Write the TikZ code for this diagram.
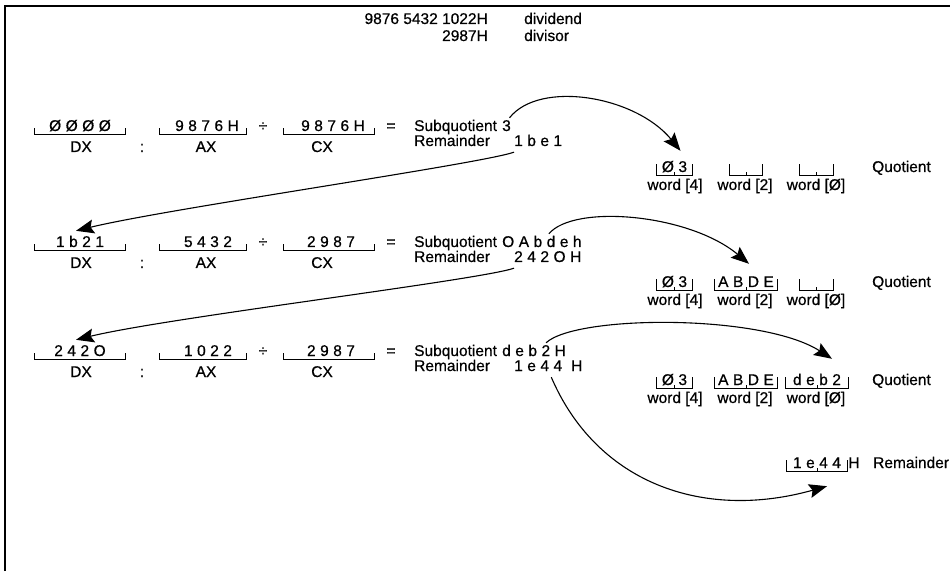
\documentclass[tikz,border=0pt]{standalone}
\usepackage{fontspec}
\setmainfont[FakeBold=0.6]{Liberation Sans}
\usetikzlibrary{arrows.meta}
\newcommand{\gp}{\hspace{4.5pt}}
\tikzset{
  txt/.style={inner sep=0pt, font=\fontsize{15.5}{17}\selectfont, text height=11pt, text depth=3pt},
  brk/.style={line width=1pt},
  arr/.style={line width=1.1pt, -{Stealth[length=18pt,width=14pt,inset=3pt]}},
  frame/.style={line width=2.6pt}
}
\newcommand{\regbox}[5]{%
  \node[txt, minimum width=#4] (#1) at (#2,#3) {#5};
  \draw[brk] ([yshift=6pt]#1.south west) -- (#1.south west) -- (#1.south east) -- ++(0,6pt);}
\newcommand{\wordbox}[5]{%
  \node[txt, minimum width=#4] (#1) at (#2,#3) {#5};
  \draw[brk] ([yshift=11pt]#1.south west) -- (#1.south west) -- (#1.south east) -- ++(0,11pt);
  \draw[brk] (#1.south) -- ++(0,3pt);}
\begin{document}
\begin{tikzpicture}[x=1pt,y=1pt]
\useasboundingbox (0,0) rectangle (950,571);
\draw[frame] (5,0) -- (5,565) -- (950,565);

% header
\node[txt,anchor=east] (dvd) at (488,551) {9876 5432 1022H};
\node[txt,anchor=west] (dvdl) at (524,551) {dividend};
\node[txt,anchor=east] (dvs) at (488,534) {2987H};
\node[txt,anchor=west] (dvsl) at (524,534) {divisor};

% row 1
\regbox{dx1}{80}{444}{91}{Ø\gp Ø\gp Ø\gp Ø}
\regbox{ax1}{203}{444}{86}{\hspace*{8pt}9\gp 8\gp 7\gp 6\gp H}
\regbox{cx1}{329}{444}{90}{\hspace*{8pt}9\gp 8\gp 7\gp 6\gp H}
\node[txt] (dv1) at (263,444) {÷};
\node[txt] (eq1) at (391,444) {=};
\node[txt] (dxl1) at (81,423) {DX};
\node[txt] (co1) at (142,423) {:};
\node[txt] (axl1) at (206,423) {AX};
\node[txt] (cxl1) at (322,423) {CX};
\node[txt,anchor=west] (sq1) at (414,444) {Subquotient};
\node[txt,anchor=west] (sqv1) at (502,444) {3};
\node[txt,anchor=west] (rm1) at (414,429) {Remainder};
\node[txt,anchor=west] (rmv1) at (514,429) {1\gp b\gp e\gp 1};

% row 2
\regbox{dx2}{80}{328}{91}{1\gp b\gp 2\gp 1}
\regbox{ax2}{203}{328}{86}{\hspace*{10pt}5\gp 4\gp 3\gp 2}
\regbox{cx2}{329}{328}{90}{\hspace*{4pt}2\gp 9\gp 8\gp 7}
\node[txt] (dv2) at (263,328) {÷};
\node[txt] (eq2) at (391,328) {=};
\node[txt] (dxl2) at (81,307) {DX};
\node[txt] (co2) at (142,307) {:};
\node[txt] (axl2) at (206,307) {AX};
\node[txt] (cxl2) at (322,307) {CX};
\node[txt,anchor=west] (sq2) at (414,328) {Subquotient};
\node[txt,anchor=west] (sqv2) at (502,328) {O\gp A\gp b\gp d\gp e\gp h};
\node[txt,anchor=west] (rm2) at (414,313) {Remainder};
\node[txt,anchor=west] (rmv2) at (514,313) {2\gp 4\gp 2\gp O\gp H};

% row 3
\regbox{dx3}{80}{219}{91}{2\gp 4\gp 2\gp O}
\regbox{ax3}{203}{219}{86}{\hspace*{10pt}1\gp 0\gp 2\gp 2}
\regbox{cx3}{329}{219}{90}{\hspace*{4pt}2\gp 9\gp 8\gp 7}
\node[txt] (dv3) at (263,219) {÷};
\node[txt] (eq3) at (391,219) {=};
\node[txt] (dxl3) at (81,198) {DX};
\node[txt] (co3) at (142,198) {:};
\node[txt] (axl3) at (206,198) {AX};
\node[txt] (cxl3) at (322,198) {CX};
\node[txt,anchor=west] (sq3) at (414,219) {Subquotient};
\node[txt,anchor=west] (sqv3) at (502,219) {d\gp e\gp b\gp 2\gp H};
\node[txt,anchor=west] (rm3) at (414,204) {Remainder};
\node[txt,anchor=west] (rmv3) at (514,204) {1\gp e\gp 4\gp 4\hspace{9pt}H};

% quotient 1
\wordbox{q1a}{674.5}{403}{35}{Ø\gp 3}
\wordbox{q1b}{746}{403}{32}{}
\wordbox{q1c}{816.5}{403}{33}{}
\node[txt] (w1a) at (675,385) {word [4]};
\node[txt] (w1b) at (745,385) {word [2]};
\node[txt] (w1c) at (816,385) {word [Ø]};
\node[txt,anchor=west] (qt1) at (872,403) {Quotient};

% quotient 2
\wordbox{q2a}{674.5}{288}{35}{Ø\gp 3}
\wordbox{q2b}{746}{288}{62}{A\gp B\gp D\gp E}
\wordbox{q2c}{816.5}{288}{33}{}
\node[txt] (w2a) at (675,270) {word [4]};
\node[txt] (w2b) at (745,270) {word [2]};
\node[txt] (w2c) at (816,270) {word [Ø]};
\node[txt,anchor=west] (qt2) at (872,288) {Quotient};

% quotient 3
\wordbox{q3a}{674.5}{190}{35}{Ø\gp 3}
\wordbox{q3b}{746}{190}{62}{A\gp B\gp D\gp E}
\wordbox{q3c}{817}{190}{62}{d\gp e\gp b\gp 2}
\node[txt] (w3a) at (675,172) {word [4]};
\node[txt] (w3b) at (745,172) {word [2]};
\node[txt] (w3c) at (816,172) {word [Ø]};
\node[txt,anchor=west] (qt3) at (872,190) {Quotient};

% final remainder
\wordbox{rb}{817}{107}{60}{1\gp e\gp 4\gp 4}
\node[txt,anchor=west] (rbh) at ([xshift=1pt]rb.east) {H};
\node[txt,anchor=west] (rbl) at (873,107) {Remainder};

% arrows
\draw[arr] ([xshift=3pt,yshift=2pt]sqv1.north) .. controls +(30,38) and +(-45,55) .. ([xshift=6pt,yshift=10pt]q1a.north);
\draw[arr] ([yshift=-3pt]rmv1.south west) .. controls +(-35,-12) and +(90,22) .. ([xshift=-4pt,yshift=5pt]dx2.north);
\draw[arr] ([xshift=7pt,yshift=2pt]sqv2.north) .. controls +(25,30) and +(-60,50) .. ([xshift=3pt,yshift=12pt]q2b.north);
\draw[arr] ([yshift=-3pt]rmv2.south west) .. controls +(-35,-12) and +(90,22) .. ([xshift=-4pt,yshift=5pt]dx3.north);
\draw[arr] ([xshift=12pt,yshift=2pt]sqv3.north) .. controls +(30,28) and +(-70,45) .. ([xshift=15pt,yshift=15pt]q3c.north);
\draw[arr] ([xshift=3pt,yshift=-3pt]rmv3.south) .. controls +(45,-105) and +(-125,-35) .. ([xshift=10pt,yshift=-15pt]rb.south);
\end{tikzpicture}
\end{document}
